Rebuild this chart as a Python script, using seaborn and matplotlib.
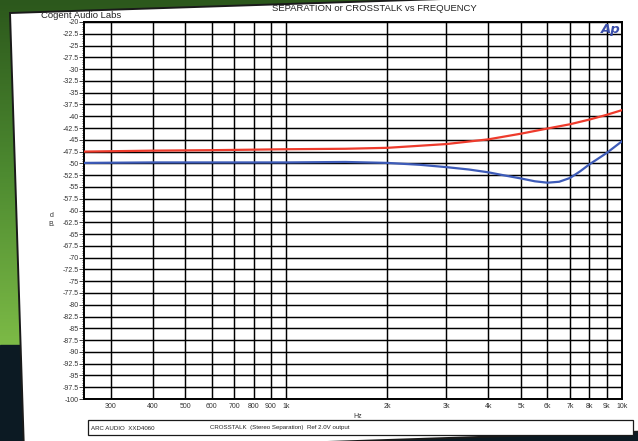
import numpy as np
import pandas as pd
import matplotlib
matplotlib.use("Agg")
import matplotlib.pyplot as plt
import seaborn as sns
from matplotlib.patches import Polygon, Rectangle
from matplotlib.colors import LinearSegmentedColormap

# ---------------- data ----------------
freq_red = [250, 400, 600, 1000, 1500, 2000, 3000, 4000, 5000, 6000, 7000, 8000, 9000, 10000]
db_red = [-47.5, -47.3, -47.2, -47.0, -46.9, -46.7, -45.9, -44.9, -43.7, -42.6, -41.7, -40.7, -39.7, -38.7]

freq_blue = [250, 400, 700, 1000, 1500, 2000, 2500, 3000, 3500, 4000, 4500, 5000,
             5500, 6000, 6500, 7000, 7500, 8000, 9000, 10000]
db_blue = [-49.9, -49.8, -49.8, -49.8, -49.7, -49.9, -50.3, -50.8, -51.3, -51.9, -52.6, -53.2,
           -53.8, -54.1, -53.9, -53.1, -51.7, -50.2, -47.8, -45.3]

xtick_vals = [300, 400, 500, 600, 700, 800, 900, 1000, 2000, 3000, 4000, 5000, 6000, 7000, 8000, 9000, 10000]
xtick_labels = ["300", "400", "500", "600", "700", "800", "900", "1k", "2k", "3k", "4k",
                "5k", "6k", "7k", "8k", "9k", "10k"]
ytick_vals = [-20, -22.5, -25, -27.5, -30, -32.5, -35, -37.5, -40, -42.5, -45, -47.5, -50,
              -52.5, -55, -57.5, -60, -62.5, -65, -67.5, -70, -72.5, -75, -77.5, -80,
              -82.5, -85, -87.5, -90, -92.5, -95, -97.5, -100]
ytick_labels = [f"{v:g}" for v in ytick_vals]

title = "SEPARATION or CROSSTALK vs FREQUENCY"
company = "Cogent Audio Labs"
footer_left = "ARC AUDIO  XXD4060"
footer_mid = "CROSSTALK  (Stereo Separation)  Ref 2.0V output"

red_c = "#ee3b2c"
blue_c = "#3d5bb8"

# ---------------- figure ----------------
sns.set_style("white")
plt.rcParams["font.family"] = ["Liberation Sans", "DejaVu Sans"]

W, H = 638, 441
fig = plt.figure(figsize=(W / 100, H / 100), dpi=100)

# background (desk + tilted paper)
bg = fig.add_axes([0, 0, 1, 1], zorder=-10)
bg.set_xlim(0, W)
bg.set_ylim(H, 0)
bg.axis("off")
green = LinearSegmentedColormap.from_list("g", ["#2c581c", "#4d8a30", "#7cba46"])
grad = np.linspace(0, 1, 345).reshape(-1, 1)
bg.imshow(grad, cmap=green, extent=[0, W, 345, 0], aspect="auto", zorder=0)
bg.add_patch(Rectangle((0, 345), W, H - 345, color="#0c1a23", zorder=0))
paper = Polygon([(10, 13), (720, -10), (720, 429), (24, 452)], closed=True,
                facecolor="white", edgecolor="#1a1a1a", lw=1.4, zorder=1)
bg.add_patch(paper)

bg.text(41, 16, company, fontsize=6.8, color="#222222", ha="left", va="center", zorder=3)

# footer box
bg.add_patch(Rectangle((88, 420), 545, 15, facecolor="white", edgecolor="#1a1a1a", lw=0.9, zorder=3))
bg.text(91, 428, footer_left, fontsize=4.4, color="#222222", ha="left", va="center", zorder=4)
bg.text(210, 427, footer_mid, fontsize=4.4, color="#222222", ha="left", va="center", zorder=4)

# ---------------- main axes ----------------
L, T, AW, AH = 84, 22, 538, 377
ax = fig.add_axes([L / W, 1 - (T + AH) / H, AW / W, AH / H])
ax.set_facecolor("white")

df = pd.concat([
    pd.DataFrame({"Hz": freq_red, "dB": db_red, "ch": "red"}),
    pd.DataFrame({"Hz": freq_blue, "dB": db_blue, "ch": "blue"}),
])
sns.lineplot(data=df, x="Hz", y="dB", hue="ch", palette={"red": red_c, "blue": blue_c},
             lw=1.6, legend=False, ax=ax, zorder=5)

ax.set_xscale("log")
ax.set_xlim(250, 10000)
ax.set_ylim(-100, -20)
ax.set_xticks(xtick_vals)
ax.set_xticklabels(xtick_labels)
ax.xaxis.set_minor_locator(matplotlib.ticker.NullLocator())
ax.set_yticks(ytick_vals)
ax.set_yticklabels(ytick_labels)
ax.yaxis.set_minor_locator(matplotlib.ticker.MultipleLocator(0.5))

ax.grid(True, which="major", color="black", lw=1.05)
ax.set_axisbelow(True)
for s in ax.spines.values():
    s.set_color("black")
    s.set_linewidth(1.4)

ax.tick_params(axis="y", which="major", direction="out", length=3.5, width=0.6,
               labelsize=5, labelcolor="#333333", pad=0.5, left=True)
ax.tick_params(axis="y", which="minor", direction="out", length=1.8, width=0.5, left=True)
ax.tick_params(axis="x", which="major", length=0, labelsize=5, labelcolor="#333333", pad=3)

ax.set_xlabel("Hz", fontsize=5, color="#333333")
ax.xaxis.set_label_coords((358 - L) / AW, -(413 - T - AH) / AH)
ax.set_ylabel("d\nB.", fontsize=5, color="#333333", rotation=0, ha="center", va="center",
              linespacing=1.3)
ax.yaxis.set_label_coords((52 - L) / AW, 1 - (220 - T) / AH)

ax.set_title(title, fontsize=6.8, color="#222222", x=(374 - L) / AW, y=1.0, pad=8)

# Ap logo
ax.text((611 - L) / AW, 1 - (29 - T) / AH, "Ap", transform=ax.transAxes, fontsize=9.5,
        fontweight="heavy", fontstyle="italic", family="DejaVu Sans", color="#3a4eab",
        ha="center", va="center", zorder=6)

fig.savefig("out.png", dpi=100)
